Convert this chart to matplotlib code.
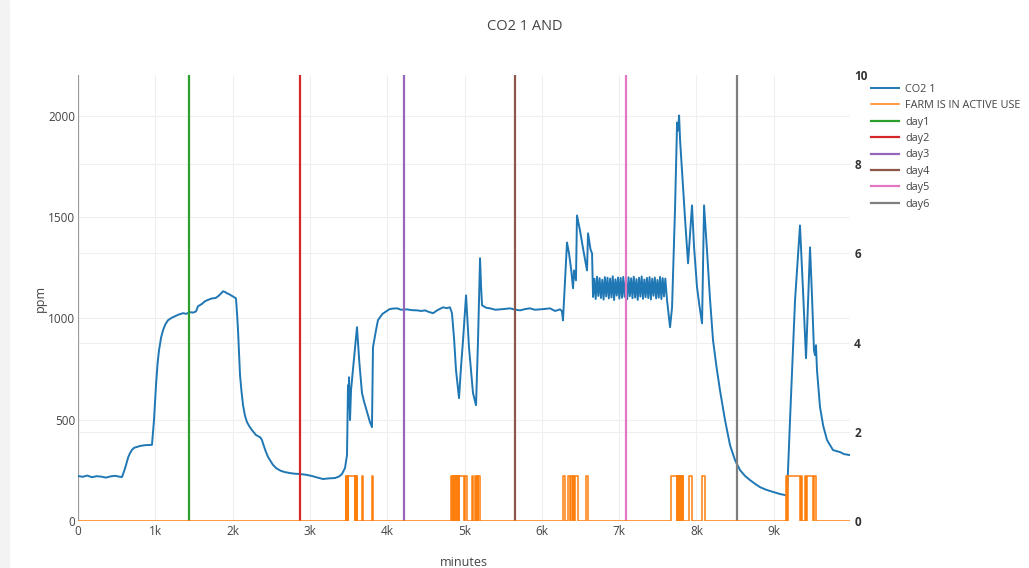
import numpy as np
import matplotlib
matplotlib.use("Agg")
import matplotlib.pyplot as plt
from matplotlib.patches import Rectangle

plt.rcParams['font.family'] = ['Open Sans', 'DejaVu Sans']

title = "CO2 1 AND"

# CO2 reading, minutes -> ppm
co2_min = [0, 60, 120, 180, 240, 300, 360, 420, 480, 543, 569, 600, 621, 650, 673, 700, 730, 763,
           800, 867, 930, 957, 983, 1009, 1030, 1048, 1075, 1100, 1130, 1164, 1210, 1255, 1300, 1358,
           1400, 1449, 1490, 1527, 1552, 1600, 1643, 1690, 1734, 1780, 1811, 1845, 1876, 1900, 1928,
           1960, 1979, 2020, 2044, 2058, 2070, 2096, 2115, 2135, 2160, 2186, 2220, 2251, 2303, 2360,
           2380, 2400, 2432, 2460, 2484, 2520, 2562, 2620, 2678, 2750, 2810, 2872, 2950, 3027, 3100,
           3170, 3240, 3325, 3380, 3415, 3454, 3480, 3493, 3500, 3506, 3519, 3532, 3570, 3609, 3640,
           3674, 3700, 3739, 3775, 3803, 3816, 3855, 3880, 3907, 3940, 3972, 4030, 4080, 4127, 4180,
           4256, 4320, 4386, 4440, 4489, 4540, 4593, 4650, 4722, 4770, 4812, 4838, 4865, 4890, 4929,
           4955, 4981, 5020, 5040, 5058, 5085, 5110, 5130, 5149, 5175, 5201, 5215, 5227, 5280, 5330,
           5400, 5459, 5520, 5589, 5650, 5718, 5780, 5847, 5910, 5977, 6040, 6106, 6171, 6236, 6260,
           6274, 6326, 6352, 6380, 6404, 6417, 6442, 6455, 6494, 6540, 6585, 6598, 6630, 6650]
co2_ppm = [222, 218, 224, 216, 221, 219, 214, 220, 223, 218, 217, 250, 276, 315, 335, 352, 362, 365,
           370, 374, 375, 376, 497, 670, 780, 842, 905, 941, 970, 990, 1002, 1010, 1018, 1025,
           1022, 1030, 1028, 1034, 1059, 1070, 1084, 1092, 1098, 1100, 1108, 1120, 1133, 1130, 1123,
           1118, 1113, 1104, 1098, 1020, 941, 719, 640, 571, 520, 488, 465, 448, 424, 412,
           399, 375, 340, 315, 300, 278, 261, 248, 241, 236, 233, 232, 228, 222, 214,
           207, 210, 212, 220, 232, 261, 325, 670, 560, 709, 498, 645, 800, 956, 780,
           631, 590, 537, 490, 463, 857, 941, 990, 1005, 1022, 1030, 1045, 1048, 1049, 1042,
           1044, 1040, 1039, 1036, 1039, 1031, 1025, 1040, 1054, 1050, 1054, 1025, 900, 744, 606,
           760, 892, 1113, 980, 857, 740, 631, 600, 571, 892, 1296, 1150, 1064, 1052, 1049,
           1042, 1044, 1046, 1049, 1043, 1039, 1045, 1049, 1042, 1044, 1046, 1049, 1036, 1044, 1035,
           990, 1374, 1320, 1240, 1148, 1236, 1187, 1507, 1433, 1330, 1236, 1419, 1340, 1320]

# fast oscillating section around day 5
osc_min = [6663, 6680, 6697, 6714, 6731, 6748, 6765, 6782, 6799, 6816, 6833, 6850, 6867, 6884, 6901,
           6918, 6935, 6952, 6969, 6986, 7003, 7020, 7037, 7054, 7071, 7088, 7105, 7122, 7139, 7156,
           7173, 7190, 7207, 7224, 7241, 7258, 7275, 7292, 7309, 7326, 7343, 7360, 7377, 7394, 7411,
           7428, 7445, 7462, 7479, 7496, 7513, 7530, 7547, 7564, 7581, 7598]
osc_ppm = [1105, 1195, 1095, 1205, 1110, 1198, 1100, 1190, 1092, 1203, 1108, 1200, 1098, 1196, 1103,
           1207, 1090, 1192, 1112, 1201, 1097, 1199, 1101, 1204, 1106, 1188, 1094, 1202, 1109, 1197,
           1099, 1205, 1102, 1193, 1091, 1200, 1107, 1206, 1096, 1191, 1104, 1199, 1100, 1203, 1093,
           1195, 1111, 1201, 1098, 1189, 1102, 1204, 1095, 1198, 1108, 1196]

co2_min_tail = [7620, 7659, 7685, 7724, 7750, 7763, 7776, 7789, 7827, 7860, 7892, 7943, 7970, 8008,
                8040, 8073, 8099, 8137, 8175, 8215, 8260, 8305, 8370, 8435, 8500, 8564, 8630, 8693,
                8760, 8823, 8890, 8952, 9020, 9082, 9146, 9172, 9211, 9276, 9340, 9379, 9418, 9470,
                9496, 9521, 9534, 9547, 9560, 9599, 9640, 9690, 9767, 9810, 9858, 9910, 9987]
co2_ppm_tail = [1089, 956, 1054, 1547, 1965, 1926, 2000, 1877, 1645, 1450, 1271, 1557, 1350, 1153,
                1060, 975, 1557, 1335, 1100, 892, 760, 645, 498, 374, 300, 251, 222, 202,
                183, 167, 156, 148, 140, 133, 128, 123, 498, 1089, 1458, 1138, 803, 1350,
                1103, 842, 818, 867, 744, 562, 470, 399, 350, 345, 340, 330, 325]

# farm active (1) periods, start/end minutes
farm_on = [(3465, 3471), (3475, 3480), (3484, 3489), (3493, 3580), (3585, 3590), (3594, 3600),
           (3603, 3609), (3672, 3684), (3800, 3812),
           (4825, 4832), (4836, 4843), (4847, 4854), (4858, 4866), (4870, 4878), (4882, 4890),
           (4894, 4902), (4906, 4914), (4918, 4926), (4932, 4995), (5003, 5028),
           (5100, 5110), (5140, 5150), (5160, 5170), (5180, 5205),
           (6268, 6300), (6343, 6365), (6372, 6400), (6408, 6418), (6425, 6472), (6572, 6600),
           (7672, 7745), (7752, 7760), (7766, 7774), (7780, 7788), (7794, 7802), (7808, 7816),
           (7822, 7832), (7905, 7940), (8077, 8112),
           (9159, 9175), (9182, 9340), (9355, 9366), (9405, 9420), (9425, 9509), (9515, 9548)]

day_labels = ["day1", "day2", "day3", "day4", "day5", "day6"]
day_min = [1442, 2871, 4220, 5651, 7094, 8530]
day_colors = ['#2ca02c', '#d62728', '#9467bd', '#8c564b', '#e377c2', '#7f7f7f']

xticks = [0, 1000, 2000, 3000, 4000, 5000, 6000, 7000, 8000, 9000]
xticklabels = ['0', '1k', '2k', '3k', '4k', '5k', '6k', '7k', '8k', '9k']

# assemble series
x_co2 = co2_min + osc_min + co2_min_tail
y_co2 = co2_ppm + osc_ppm + co2_ppm_tail

fx, fy = [0], [0]
for s, e in farm_on:
    fx += [s, s, e, e]
    fy += [0, 1, 1, 0]
fx.append(9987)
fy.append(0)

fig = plt.figure(figsize=(10.29, 5.68), dpi=100)
fig.patches.append(Rectangle((0, 0), 0.009, 1, transform=fig.transFigure,
                             color='#f3f3f3', zorder=-1))
ax = fig.add_axes([78 / 1029, 47 / 568, 772 / 1029, 446 / 568])
ax2 = ax.twinx()

grid_c = '#efefef'
for t in xticks[1:]:
    ax.axvline(t, color=grid_c, lw=0.8, zorder=0)
for t in [500, 1000, 1500, 2000]:
    ax.axhline(t, color=grid_c, lw=0.8, zorder=0)
for t in [2, 4, 6, 8]:
    ax.axhline(t * 220, color=grid_c, lw=0.8, zorder=0)

ax.axvline(0, color='#9a9a9a', lw=1.6, zorder=1)

h_co2, = ax.plot(x_co2, y_co2, color='#1f77b4', lw=1.4, zorder=3, label='CO2 1')
day_handles = []
for d, lab, c in zip(day_min, day_labels, day_colors):
    h = ax.axvline(d, color=c, lw=1.6, zorder=4, label=lab)
    day_handles.append(h)

h_farm, = ax2.plot(fx, fy, color='#ff7f0e', lw=1.1, label='FARM IS IN ACTIVE USE')

ax.set_xlim(0, 9987)
ax.set_ylim(0, 2200)
ax2.set_ylim(0, 10)
ax.set_xticks(xticks)
ax.set_xticklabels(xticklabels)
ax.set_yticks([0, 500, 1000, 1500, 2000])
ax2.set_yticks([0, 2, 4, 6, 8, 10])
ax2.set_yticklabels(['0', '2', '4', '6', '8', '10'], fontweight='bold')

for a in (ax, ax2):
    for sp in a.spines.values():
        sp.set_visible(False)
    a.patch.set_visible(False)
ax.tick_params(axis='both', length=0, labelsize=8.5, colors='#444444')
ax.tick_params(axis='x', pad=3)
ax.tick_params(axis='y', pad=2)
ax2.tick_params(axis='y', length=0, labelsize=8.5, colors='#333333', pad=3)

ax.set_ylabel('ppm', fontsize=9, color='#444444', labelpad=1)
ax.set_xlabel('minutes', fontsize=9, color='#444444', labelpad=13)

fig.text(0.51, 1 - 27 / 568, title, ha='center', va='center', fontsize=10.5, color='#444444')

handles = [h_co2, h_farm] + day_handles
fig.legend(handles, [h.get_label() for h in handles], loc='upper left',
           bbox_to_anchor=(861 / 1029, 1 - 74 / 568), frameon=False, fontsize=7.8,
           labelspacing=0.5, handlelength=2.6, handletextpad=0.6, labelcolor='#444444')

fig.savefig('out.png', dpi=100)
